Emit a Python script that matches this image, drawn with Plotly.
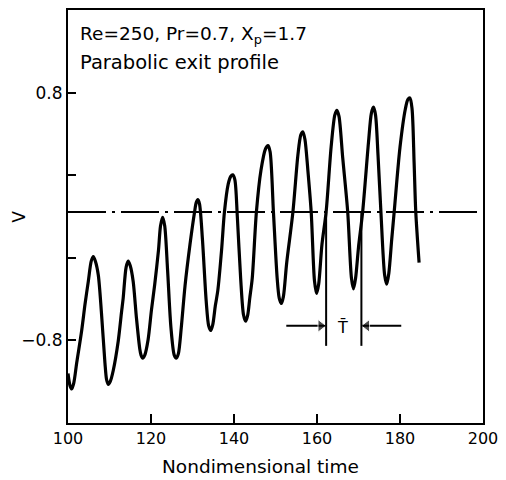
import plotly.graph_objects as go

# ---- data ----
time = [100.0, 100.5, 100.9, 101.4, 102.1, 103.3, 104.1, 104.9, 105.6, 106.1,
        106.6, 107.3, 108.1, 108.9, 109.3, 109.7, 110.2, 110.9, 112.1, 112.9,
        113.3, 114.0, 114.5, 115.0, 115.7, 116.5, 117.3, 117.6, 118.0, 118.5,
        119.3, 120.1, 120.9, 121.8, 122.3, 122.8, 123.3, 124.0, 124.8, 125.6,
        126.1, 126.6, 127.3, 128.2, 129.4, 130.5, 130.9, 131.3, 131.7, 132.4,
        133.3, 133.9, 134.4, 134.9, 135.5, 136.1, 137.0, 137.7, 138.6, 139.2,
        139.7, 140.2, 140.8, 141.6, 142.3, 142.8, 143.3, 143.8, 144.4, 145.4,
        146.5, 147.6, 148.2, 148.7, 149.5, 150.4, 150.9, 151.4, 151.9, 152.7,
        154.2, 155.4, 156.1, 156.6, 157.1, 157.8, 158.6, 159.4, 159.9, 160.4,
        161.2, 162.2, 163.4, 164.3, 164.8, 165.3, 166.2, 167.4, 168.3, 168.8,
        169.3, 170.0, 171.0, 172.4, 173.1, 173.6, 174.1, 174.7, 175.4, 176.3,
        176.8, 177.3, 178.0, 178.6, 180.0, 181.3, 181.9, 182.4, 182.9, 183.4,
        183.8, 184.6]
v = [-1.02, -1.10, -1.12, -1.08, -0.95, -0.74, -0.57, -0.42, -0.29, -0.26,
     -0.29, -0.38, -0.64, -0.95, -1.06, -1.09, -1.07, -1.00, -0.81, -0.62,
     -0.53, -0.33, -0.29, -0.32, -0.42, -0.66, -0.86, -0.90, -0.92, -0.90,
     -0.80, -0.61, -0.44, -0.22, -0.06, -0.005, -0.06, -0.35, -0.72, -0.90,
     -0.92, -0.89, -0.72, -0.45, -0.18, 0.03, 0.09, 0.11, 0.08, -0.15,
     -0.55, -0.71, -0.74, -0.70, -0.58, -0.48, -0.22, 0.03, 0.21, 0.26,
     0.27, 0.24, 0.00, -0.40, -0.64, -0.68, -0.64, -0.53, -0.40, 0.03,
     0.30, 0.44, 0.46, 0.42, 0.03, -0.40, -0.53, -0.565, -0.52, -0.30,
     0.03, 0.40, 0.53, 0.55, 0.50, 0.30, 0.03, -0.42, -0.50, -0.44,
     -0.18, 0.03, 0.45, 0.66, 0.69, 0.65, 0.38, 0.03, -0.40, -0.47,
     -0.40, -0.20, 0.03, 0.48, 0.67, 0.71, 0.66, 0.40, 0.03, -0.38,
     -0.44, -0.37, -0.15, 0.03, 0.45, 0.70, 0.76, 0.77, 0.70, 0.35,
     0.03, -0.30]

x_ticks = [100, 120, 140, 160, 180, 200]
x_tick_labels = ["100", "120", "140", "160", "180", "200"]
y_ticks = [-0.8, 0.8]
y_tick_labels = ["\u22120.8", "0.8"]
y_minor_ticks = [-0.267, 0.267]

mean_level = 0.03               # dash-dot reference line
period_marks = [162.2, 170.7]   # up-crossings bounding the period T
period_mark_bottom = -0.84
arrow_level = -0.71
left_arrow = [152.6, 160.9]     # tail, head
right_arrow = [180.3, 172.0]    # tail, head

title_lines = ["Re=250, Pr=0.7, X<sub>p</sub>=1.7", "Parabolic exit profile"]

FONT = "DejaVu Sans"

fig = go.Figure()
fig.add_trace(go.Scatter(
    x=time, y=v, mode="lines",
    line=dict(color="black", width=3.2, shape="spline", smoothing=0.8),
    showlegend=False, hoverinfo="skip"))

# dash-dot mean line
fig.add_shape(type="line", xref="paper", x0=0, x1=1, yref="y", y0=mean_level, y1=mean_level,
              line=dict(color="black", width=2, dash="38px,6px,3px,6px"))

# period markers
for t in period_marks:
    fig.add_shape(type="line", xref="x", yref="y", x0=t, x1=t,
                  y0=mean_level, y1=period_mark_bottom,
                  line=dict(color="black", width=2))

# arrows pointing at the period markers
for arrow, mark, sym in ((left_arrow, period_marks[0], "triangle-right"),
                         (right_arrow, period_marks[1], "triangle-left")):
    fig.add_trace(go.Scatter(
        x=[arrow[0], arrow[1], mark], y=[arrow_level] * 3, mode="lines+markers",
        line=dict(color="black", width=2),
        marker=dict(symbol=[sym] * 3, size=[0, 11, 0], color="black"),
        showlegend=False, hoverinfo="skip", cliponaxis=False))

fig.add_annotation(x=166.2, y=-0.72, xref="x", yref="y", text="T\u0304",
                   showarrow=False, font=dict(family=FONT, size=16, color="black"))

fig.add_annotation(x=102.3, y=1.18, xref="x", yref="y", text=title_lines[0],
                   xanchor="left", yanchor="middle", showarrow=False,
                   font=dict(family=FONT, size=18.5, color="black"))
fig.add_annotation(x=102.3, y=1.0, xref="x", yref="y", text=title_lines[1],
                   xanchor="left", yanchor="middle", showarrow=False,
                   font=dict(family=FONT, size=19.5, color="black"))

# axis titles
fig.add_annotation(x=-0.12, y=0.5, xref="paper", yref="paper", text="V",
                   textangle=-90, showarrow=False, xanchor="center", yanchor="middle",
                   font=dict(family=FONT, size=17, color="black"))
fig.add_annotation(x=146.3, y=-0.106, xref="x", yref="paper", text="Nondimensional time",
                   showarrow=False, xanchor="center", yanchor="middle",
                   font=dict(family=FONT, size=18.5, color="black"))

fig.update_xaxes(range=[100, 200], tickvals=x_ticks, ticktext=x_tick_labels,
                 ticks="inside", ticklen=9, tickwidth=2, tickcolor="black",
                 showline=True, linewidth=2, linecolor="black", mirror=True,
                 showgrid=False, zeroline=False,
                 tickfont=dict(family=FONT, size=16, color="black"))
fig.update_yaxes(range=[-1.341, 1.341], tickvals=y_ticks, ticktext=y_tick_labels,
                 ticks="inside", ticklen=8, tickwidth=2, tickcolor="black",
                 minor=dict(tickvals=y_minor_ticks, ticks="inside", ticklen=8,
                            tickwidth=2, tickcolor="black", showgrid=False),
                 showline=True, linewidth=2, linecolor="black", mirror=True,
                 showgrid=False, zeroline=False,
                 tickfont=dict(family=FONT, size=17, color="black"))

fig.update_layout(width=506, height=480,
                  margin=dict(l=68, r=22, t=8, b=57),
                  paper_bgcolor="white", plot_bgcolor="white",
                  font=dict(family=FONT, color="black"))

fig.write_html("out.html")
